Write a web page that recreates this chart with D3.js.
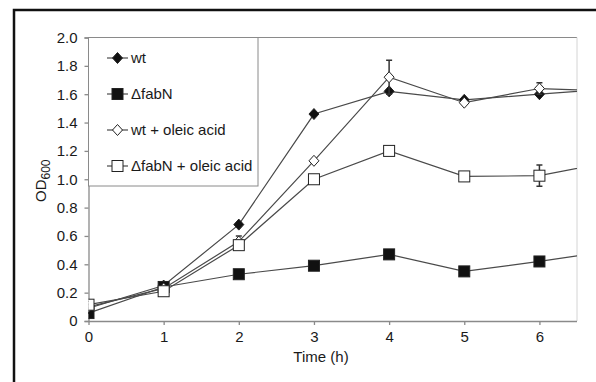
<!DOCTYPE html>
<html>
<head>
<meta charset="utf-8">
<script src="https://cdn.jsdelivr.net/npm/d3@7"></script>
<style>
  body { margin: 0; background: #fff; }
  text { font-family: "Liberation Sans", Arial, sans-serif; fill: #1a1a1a; }
</style>
</head>
<body>
<svg id="chart" width="596" height="382"></svg>
<script>
// growth curve data (t=7 sits past the clipped edge)
const times = [0, 1, 2, 3, 4, 5, 6, 7];
const wt = [0.09, 0.25, 0.68, 1.46, 1.62, 1.56, 1.60, 1.64];
const fabN = [0.056, 0.24, 0.33, 0.39, 0.47, 0.35, 0.42, 0.50];
const wtOleic = [0.10, 0.23, 0.56, 1.13, 1.72, 1.54, 1.64, 1.62];
const fabNOleic = [0.115, 0.21, 0.535, 1.00, 1.20, 1.02, 1.025, 1.13];
const wtOleicErr = [0, 0, 0.04, 0, 0.12, 0, 0.04, 0];
const fabNOleicErr = [0, 0, 0, 0, 0, 0, 0.075, 0];
const xTicks = [0, 1, 2, 3, 4, 5, 6];
const yTicks = [0, 0.2, 0.4, 0.6, 0.8, 1.0, 1.2, 1.4, 1.6, 1.8, 2.0];

const series = [
  { name: "wt", values: wt, shape: "diamond", fill: "#111" },
  { name: "\u0394fabN", values: fabN, shape: "square", fill: "#111" },
  { name: "wt + oleic acid", values: wtOleic, err: wtOleicErr, shape: "diamond", fill: "#fff" },
  { name: "\u0394fabN + oleic acid", values: fabNOleic, err: fabNOleicErr, shape: "square", fill: "#fff" }
];

const svg = d3.select("#chart");
const pLeft = 88.5, pRight = 577, pTop = 37.5, pBottom = 321;

const x = d3.scaleLinear().domain([0, 6.5]).range([pLeft, pRight]);
const y = d3.scaleLinear().domain([0, 2]).range([pBottom, pTop]);

// outer frame (only top and left edges are in view)
svg.append("path")
  .attr("d", "M14,382V10H596")
  .attr("fill", "none")
  .attr("stroke", "#111")
  .attr("stroke-width", 2.5);

svg.append("clipPath").attr("id", "plot")
  .append("rect")
  .attr("x", pLeft).attr("y", pTop - 20)
  .attr("width", pRight - pLeft).attr("height", pBottom - pTop + 40);

// plot area border
svg.append("line")
  .attr("x1", pLeft).attr("x2", pRight).attr("y1", pTop).attr("y2", pTop)
  .attr("stroke", "#8a8a8a").attr("stroke-width", 1);
svg.append("line")
  .attr("x1", pRight).attr("x2", pRight).attr("y1", pTop).attr("y2", pBottom)
  .attr("stroke", "#d4d4d4").attr("stroke-width", 1);

// axes
const xAxis = svg.append("g")
  .attr("transform", `translate(0,${pBottom})`)
  .call(d3.axisBottom(x).tickValues(xTicks).tickSize(4).tickPadding(6).tickFormat(d3.format("d")));
const yAxis = svg.append("g")
  .attr("transform", `translate(${pLeft},0)`)
  .call(d3.axisLeft(y).tickValues(yTicks).tickSize(4).tickPadding(7)
    .tickFormat(d => d === 0 ? "0" : d3.format(".1f")(d)));

[xAxis, yAxis].forEach(a => {
  a.select(".domain").attr("stroke", "#8a8a8a").attr("stroke-width", 1.3);
  a.selectAll(".tick line").attr("stroke", "#8a8a8a").attr("stroke-width", 1.3);
  a.selectAll(".tick text")
    .attr("font-size", 15)
    .attr("font-family", "Liberation Sans, Arial, sans-serif")
    .attr("fill", "#1a1a1a");
});
xAxis.select(".domain").attr("d", `M${pLeft},0.5H${pRight}`);

// axis titles
svg.append("text")
  .attr("x", 321).attr("y", 362)
  .attr("text-anchor", "middle")
  .attr("font-size", 15)
  .text("Time (h)");

const yTitle = svg.append("text")
  .attr("transform", "translate(46,202) rotate(-90)")
  .attr("font-size", 15);
yTitle.append("tspan").text("OD");
yTitle.append("tspan").attr("dy", 4).attr("font-size", 12).text("600");

// markers
function drawMarker(g, shape, fill, cx, cy) {
  if (shape === "diamond") {
    g.append("path")
      .attr("d", `M${cx},${cy - 5.5}L${cx + 5},${cy}L${cx},${cy + 5.5}L${cx - 5},${cy}Z`)
      .attr("fill", fill).attr("stroke", "#222").attr("stroke-width", 1);
  } else {
    g.append("rect")
      .attr("x", cx - 5.5).attr("y", cy - 5.5)
      .attr("width", 11).attr("height", 11)
      .attr("fill", fill).attr("stroke", "#222").attr("stroke-width", 1);
  }
}

const plot = svg.append("g").attr("clip-path", "url(#plot)");
const line = d3.line().x((d, i) => x(times[i])).y(d => y(d));

series.forEach(s => {
  const g = plot.append("g");
  g.append("path")
    .datum(s.values)
    .attr("d", line)
    .attr("fill", "none")
    .attr("stroke", "#4a4a4a")
    .attr("stroke-width", 1.2);
  if (s.err) {
    s.values.forEach((v, i) => {
      if (!s.err[i]) return;
      const cx = x(times[i]);
      g.append("line")
        .attr("x1", cx).attr("x2", cx)
        .attr("y1", y(v - s.err[i])).attr("y2", y(v + s.err[i]))
        .attr("stroke", "#333").attr("stroke-width", 1.5);
      [v - s.err[i], v + s.err[i]].forEach(e => {
        g.append("line")
          .attr("x1", cx - 3).attr("x2", cx + 3)
          .attr("y1", y(e)).attr("y2", y(e))
          .attr("stroke", "#333").attr("stroke-width", 1.5);
      });
    });
  }
  s.values.forEach((v, i) => drawMarker(g, s.shape, s.fill, x(times[i]), y(v)));
});

// legend
const legend = svg.append("g");
legend.append("rect")
  .attr("x", pLeft).attr("y", pTop)
  .attr("width", 258 - pLeft).attr("height", 186 - pTop)
  .attr("fill", "#fff")
  .attr("stroke", "#8a8a8a").attr("stroke-width", 1);

const rowY = d3.scalePoint().domain(series.map(s => s.name)).range([58, 166]);
series.forEach(s => {
  const yy = rowY(s.name);
  legend.append("line")
    .attr("x1", 107).attr("x2", 128).attr("y1", yy).attr("y2", yy)
    .attr("stroke", "#4a4a4a").attr("stroke-width", 1.2);
  drawMarker(legend, s.shape, s.fill, 117.5, yy);
  legend.append("text")
    .attr("x", 131).attr("y", yy).attr("dy", "0.36em")
    .attr("font-size", 15)
    .text(s.name);
});
</script>
</body>
</html>
